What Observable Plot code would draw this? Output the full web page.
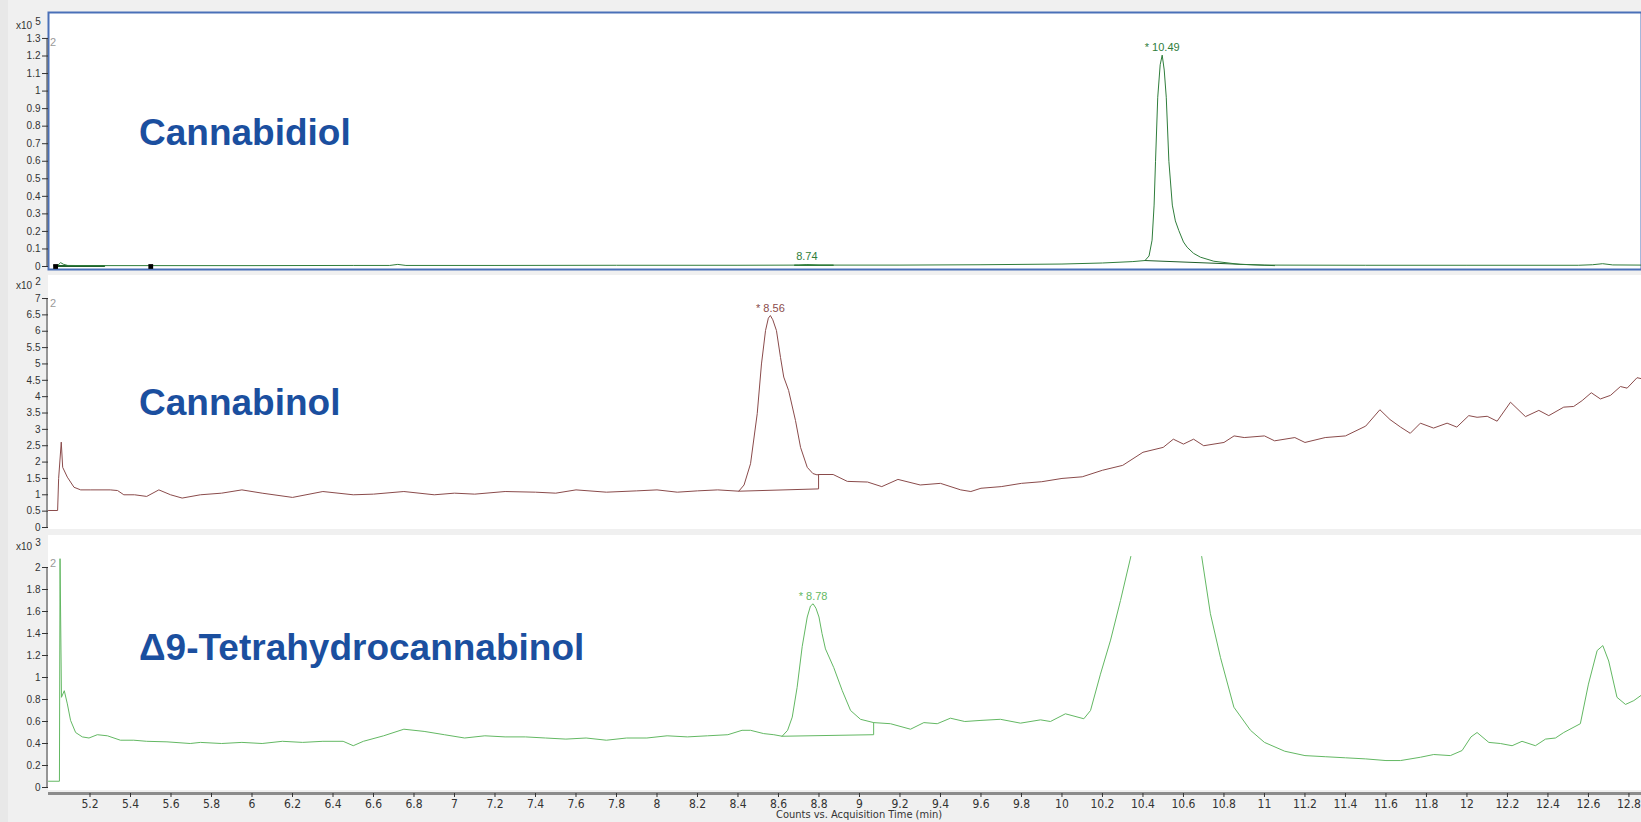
<!DOCTYPE html>
<html>
<head>
<meta charset="utf-8">
<script src="https://cdn.jsdelivr.net/npm/d3@7"></script>
<script src="https://cdn.jsdelivr.net/npm/@observablehq/plot@0.6"></script>
<style>
html, body { margin: 0; padding: 0; background: #f0f0f0; }
#root { position: relative; width: 1641px; height: 822px; overflow: hidden; background: #f0f0f0; font-family: "Liberation Sans", Arial, sans-serif; }
.strip { position: absolute; left: 0; top: 0; width: 8px; height: 822px; background: #e8e8e8; }
.panel { position: absolute; left: 48px; width: 1593px; background: #ffffff; }
.chart { position: absolute; left: 0; }
.chart svg { display: block; }
.title { position: absolute; left: 139px; font: bold 37px/37px "Liberation Sans", Arial, sans-serif; color: #1b4f9f; white-space: nowrap; }
.exp { position: absolute; left: 16px; font: 10px/10px "Liberation Sans", Arial, sans-serif; color: #333; white-space: nowrap; }
.exp span { position: relative; top: -4px; margin-left: 3px; }
.idx { position: absolute; left: 50px; font: 11px/11px "Liberation Sans", Arial, sans-serif; color: #9a9a9a; }
.xlabel { position: absolute; top: 809px; left: 759px; width: 200px; text-align: center; font: 11px/11px "Liberation Sans Narrow", "DejaVu Sans Condensed", sans-serif; color: #333; white-space: nowrap; }
</style>
</head>
<body>
<div id="root">
  <div class="strip"></div>
  <div class="panel" style="top:12px;height:257px"></div>
  <div class="panel" style="top:275px;height:254px"></div>
  <div class="panel" style="top:535px;height:255px"></div>
  <div class="chart" id="c1" style="top:0px"></div>
  <div class="chart" id="c2" style="top:272px"></div>
  <div class="chart" id="c3" style="top:532px"></div>
  <div class="exp" style="top:21px">x10<span>5</span></div>
  <div class="exp" style="top:281px">x10<span>2</span></div>
  <div class="exp" style="top:542px">x10<span>3</span></div>
  <div class="idx" style="top:37px">2</div>
  <div class="idx" style="top:298px">2</div>
  <div class="idx" style="top:558px">2</div>
  <div class="title" style="top:114px">Cannabidiol</div>
  <div class="title" style="top:384px">Cannabinol</div>
  <div class="title" style="top:629px">Δ9-Tetrahydrocannabinol</div>
  <div class="xlabel">Counts vs. Acquisition Time (min)</div>
</div>
<script>
// ---------- axis ticks ----------
const timeTicks = [5.2,5.4,5.6,5.8,6,6.2,6.4,6.6,6.8,7,7.2,7.4,7.6,7.8,8,8.2,8.4,8.6,8.8,9,9.2,9.4,9.6,9.8,10,10.2,10.4,10.6,10.8,11,11.2,11.4,11.6,11.8,12,12.2,12.4,12.6,12.8];
const cbdTicks = [0,0.1,0.2,0.3,0.4,0.5,0.6,0.7,0.8,0.9,1,1.1,1.2,1.3];
const cbnTicks = [0,0.5,1,1.5,2,2.5,3,3.5,4,4.5,5,5.5,6,6.5,7];
const thcTicks = [0,0.2,0.4,0.6,0.8,1,1.2,1.4,1.6,1.8,2];

// ---------- Cannabidiol trace (x10^5 counts) ----------
const cbdTrace = [
  [5.02,0.004],[5.04,0.006],[5.055,0.022],[5.07,0.012],[5.09,0.006],[5.2,0.005],[5.5,0.005],[6.0,0.005],
  [6.5,0.006],[6.68,0.006],[6.72,0.012],[6.76,0.006],[7.2,0.006],[7.8,0.007],[8.4,0.007],[8.7,0.008],
  [8.74,0.011],[8.8,0.008],[9.2,0.008],[9.6,0.010],[10.0,0.014],[10.2,0.020],[10.35,0.028],[10.41,0.034],
  [10.43,0.06],[10.445,0.15],[10.455,0.35],[10.462,0.6],[10.473,0.965],[10.485,1.15],[10.495,1.205],
  [10.505,1.12],[10.515,0.965],[10.528,0.6],[10.545,0.35],[10.56,0.26],[10.577,0.205],[10.60,0.14],
  [10.618,0.11],[10.65,0.075],[10.684,0.053],[10.75,0.03],[10.88,0.012],[11.0,0.008],[11.5,0.007],
  [12.0,0.007],[12.55,0.007],[12.62,0.010],[12.67,0.016],[12.72,0.009],[12.862,0.008]
];
const cbdBaseA = [[5.03,0.003],[5.27,0.003]];
const cbdBaseB = [[8.68,0.007],[8.87,0.007]];
const cbdBaseC = [[10.41,0.034],[11.05,0.005]];
const cbdMarkers = [[5.03,0],[5.5,0]];

// ---------- Cannabinol trace (x10^2 counts) ----------
const cbnTrace = [
  [4.995,0.52],[5.04,0.52],[5.045,1.5],[5.058,2.61],[5.065,1.84],[5.088,1.54],[5.121,1.23],[5.154,1.15],
  [5.204,1.15],[5.30,1.15],[5.336,1.13],[5.367,1.0],[5.42,1.0],[5.48,0.95],[5.54,1.15],[5.598,1.0],
  [5.655,0.9],[5.745,1.0],[5.85,1.05],[5.95,1.15],[6.05,1.05],[6.2,0.92],[6.35,1.1],[6.5,1.0],
  [6.6,1.02],[6.75,1.1],[6.9,1.0],[7.0,1.05],[7.1,1.02],[7.25,1.1],[7.4,1.08],[7.5,1.05],[7.6,1.15],
  [7.75,1.08],[7.9,1.12],[8.0,1.15],[8.1,1.08],[8.2,1.12],[8.3,1.15],[8.404,1.11],[8.43,1.3],
  [8.462,1.95],[8.495,3.48],[8.516,5.0],[8.536,6.02],[8.55,6.4],[8.56,6.48],[8.572,6.35],[8.59,6.02],
  [8.61,5.2],[8.626,4.6],[8.65,4.19],[8.684,3.27],[8.709,2.45],[8.742,1.84],[8.77,1.65],[8.79,1.61],
  [8.80,1.62],[8.87,1.62],[8.94,1.41],[9.04,1.39],[9.11,1.25],[9.19,1.47],[9.3,1.3],[9.4,1.35],
  [9.5,1.15],[9.55,1.1],[9.6,1.2],[9.7,1.25],[9.8,1.35],[9.9,1.4],[10.0,1.5],[10.1,1.55],[10.2,1.75],
  [10.3,1.9],[10.4,2.3],[10.5,2.45],[10.55,2.7],[10.6,2.55],[10.65,2.7],[10.7,2.5],[10.8,2.6],
  [10.85,2.8],[10.9,2.75],[11.0,2.8],[11.05,2.65],[11.15,2.75],[11.2,2.6],[11.3,2.75],[11.4,2.8],
  [11.5,3.1],[11.57,3.6],[11.62,3.3],[11.672,3.07],[11.72,2.88],[11.77,3.19],[11.835,3.04],[11.902,3.19],
  [11.95,3.07],[12.009,3.42],[12.05,3.37],[12.10,3.40],[12.149,3.25],[12.215,3.83],[12.289,3.39],
  [12.355,3.58],[12.404,3.42],[12.478,3.68],[12.527,3.70],[12.569,3.88],[12.614,4.12],[12.659,3.93],
  [12.709,4.04],[12.758,4.31],[12.791,4.26],[12.84,4.58],[12.862,4.55]
];
const cbnBase = [[8.404,1.11],[8.798,1.18],[8.798,1.61]];

// ---------- Δ9-THC trace (x10^3 counts); null = off scale ----------
const thcTrace = [
  [4.995,0.057],[5.049,0.057],[5.052,2.08],[5.059,0.82],[5.073,0.88],[5.088,0.76],[5.104,0.61],
  [5.129,0.50],[5.162,0.46],[5.195,0.45],[5.236,0.48],[5.286,0.47],[5.35,0.43],[5.416,0.43],[5.48,0.42],
  [5.58,0.415],[5.695,0.40],[5.745,0.41],[5.85,0.40],[5.95,0.41],[6.05,0.40],[6.15,0.42],[6.25,0.41],
  [6.35,0.42],[6.45,0.42],[6.5,0.38],[6.55,0.42],[6.65,0.47],[6.75,0.53],[6.85,0.51],[6.95,0.48],
  [7.05,0.45],[7.15,0.47],[7.25,0.46],[7.35,0.46],[7.45,0.45],[7.55,0.44],[7.65,0.45],[7.75,0.43],
  [7.85,0.45],[7.95,0.45],[8.05,0.47],[8.15,0.46],[8.25,0.47],[8.35,0.48],[8.42,0.52],[8.462,0.52],
  [8.527,0.49],[8.577,0.48],[8.618,0.466],[8.645,0.52],[8.668,0.64],[8.692,0.91],[8.717,1.28],
  [8.742,1.55],[8.758,1.65],[8.771,1.67],[8.785,1.63],[8.80,1.55],[8.815,1.40],[8.832,1.26],
  [8.873,1.09],[8.915,0.88],[8.956,0.70],[9.005,0.62],[9.07,0.59],[9.153,0.58],[9.252,0.53],
  [9.318,0.59],[9.384,0.58],[9.449,0.63],[9.52,0.60],[9.6,0.61],[9.696,0.62],[9.795,0.585],
  [9.894,0.615],[9.943,0.60],[10.017,0.67],[10.108,0.625],[10.141,0.70],[10.19,1.03],[10.24,1.34],
  [10.289,1.70],[10.34,2.1],[10.49,null],[10.69,2.1],[10.733,1.58],[10.783,1.18],[10.849,0.73],
  [10.931,0.52],[11.0,0.41],[11.1,0.33],[11.2,0.29],[11.3,0.28],[11.4,0.27],[11.5,0.26],[11.6,0.245],
  [11.672,0.245],[11.77,0.275],[11.836,0.30],[11.918,0.29],[11.976,0.336],[12.02,0.46],[12.05,0.50],
  [12.108,0.41],[12.165,0.40],[12.223,0.38],[12.272,0.42],[12.338,0.38],[12.388,0.44],[12.437,0.45],
  [12.478,0.50],[12.56,0.58],[12.60,0.94],[12.643,1.245],[12.671,1.29],[12.70,1.15],[12.741,0.82],
  [12.783,0.755],[12.824,0.79],[12.862,0.84]
];
const thcBase = [[8.618,0.466],[9.07,0.48],[9.07,0.59]];

// ---------- peak labels ----------
const cbdPeaks = [[10.495,1.205,"* 10.49"],[8.74,0.011,"8.74"]];
const cbnPeaks = [[8.56,6.48,"* 8.56"]];
const thcPeaks = [[8.771,1.67,"* 8.78"]];

// ---------- colours ----------
const cbdColor = "#2f7d3b";
const cbnColor = "#8a4b4b";
const thcColor = "#63b863";

// ---------- layout ----------
const W = 1641, ML = 48, MR = 0;
const xDomain = [4.995, 12.862];
const fmt = d => String(+d.toFixed(1));
const X = d => d[0], Y = d => d[1];
const baseStyle = {background: "transparent", fontFamily: "Liberation Sans, Arial, sans-serif", overflow: "visible"};

function yAxisMarks(ticks) {
  return [
    Plot.ruleX([xDomain[0]], {y1: ticks[0], y2: ticks[ticks.length - 1], stroke: "#3a3a3a", dx: -1.5}),
    Plot.axisY({ticks, tickFormat: fmt, tickSize: 6, tickPadding: 2, fontSize: 10, color: "#333", label: null})
  ];
}

const p1yDomain = [-0.0171, 1.448];
const p1 = Plot.plot({
  width: W, height: 272, marginLeft: ML, marginRight: MR, marginTop: 12, marginBottom: 3,
  x: {domain: xDomain, axis: null}, y: {domain: p1yDomain},
  style: baseStyle,
  marks: [
    Plot.frame({stroke: "#4a70b8", strokeWidth: 2}),
    ...yAxisMarks(cbdTicks),
    Plot.line(cbdBaseA, {x: X, y: Y, stroke: "#1f5f2a", strokeWidth: 2}),
    Plot.line(cbdBaseB, {x: X, y: Y, stroke: cbdColor, strokeWidth: 1.5}),
    Plot.line(cbdBaseC, {x: X, y: Y, stroke: "#1f5f2a", strokeWidth: 1}),
    Plot.line(cbdTrace, {x: X, y: Y, stroke: cbdColor, strokeWidth: 1}),
    Plot.dot(cbdMarkers, {x: X, y: Y, symbol: "square", r: 2.7, fill: "#000", stroke: "none"}),
    Plot.text(cbdPeaks, {x: X, y: Y, text: d => d[2], dy: -8, fill: cbdColor, fontSize: 11})
  ]
});
document.getElementById("c1").appendChild(p1);

const p2yDomain = [-0.061, 7.704];
const p2 = Plot.plot({
  width: W, height: 260, marginLeft: ML, marginRight: MR, marginTop: 3, marginBottom: 3,
  x: {domain: xDomain, axis: null}, y: {domain: p2yDomain},
  style: baseStyle,
  marks: [
    ...yAxisMarks(cbnTicks),
    Plot.line(cbnBase, {x: X, y: Y, stroke: cbnColor, strokeWidth: 1}),
    Plot.line(cbnTrace, {x: X, y: Y, stroke: cbnColor, strokeWidth: 1}),
    Plot.text(cbnPeaks, {x: X, y: Y, text: d => d[2], dy: -7, fill: cbnColor, fontSize: 11})
  ]
});
document.getElementById("c2").appendChild(p2);

const p3yDomain = [-0.0545, 2.1];
const p3 = Plot.plot({
  width: W, height: 290, marginLeft: ML, marginRight: MR, marginTop: 24, marginBottom: 29,
  x: {domain: xDomain}, y: {domain: p3yDomain},
  style: baseStyle,
  marks: [
    Plot.ruleY([p3yDomain[0]], {stroke: "#8c8c8c", strokeWidth: 3}),
    Plot.axisX({ticks: timeTicks, tickFormat: fmt, tickSize: 4, tickPadding: 2, fontSize: 12,
      fontFamily: "Liberation Sans Narrow, DejaVu Sans Condensed, sans-serif", color: "#333", label: null}),
    ...yAxisMarks(thcTicks),
    Plot.line(thcBase, {x: X, y: Y, stroke: thcColor, strokeWidth: 1}),
    Plot.line(thcTrace, {x: X, y: Y, stroke: thcColor, strokeWidth: 1}),
    Plot.text(thcPeaks, {x: X, y: Y, text: d => d[2], dy: -7, fill: thcColor, fontSize: 11})
  ]
});
document.getElementById("c3").appendChild(p3);
</script>
</body>
</html>
